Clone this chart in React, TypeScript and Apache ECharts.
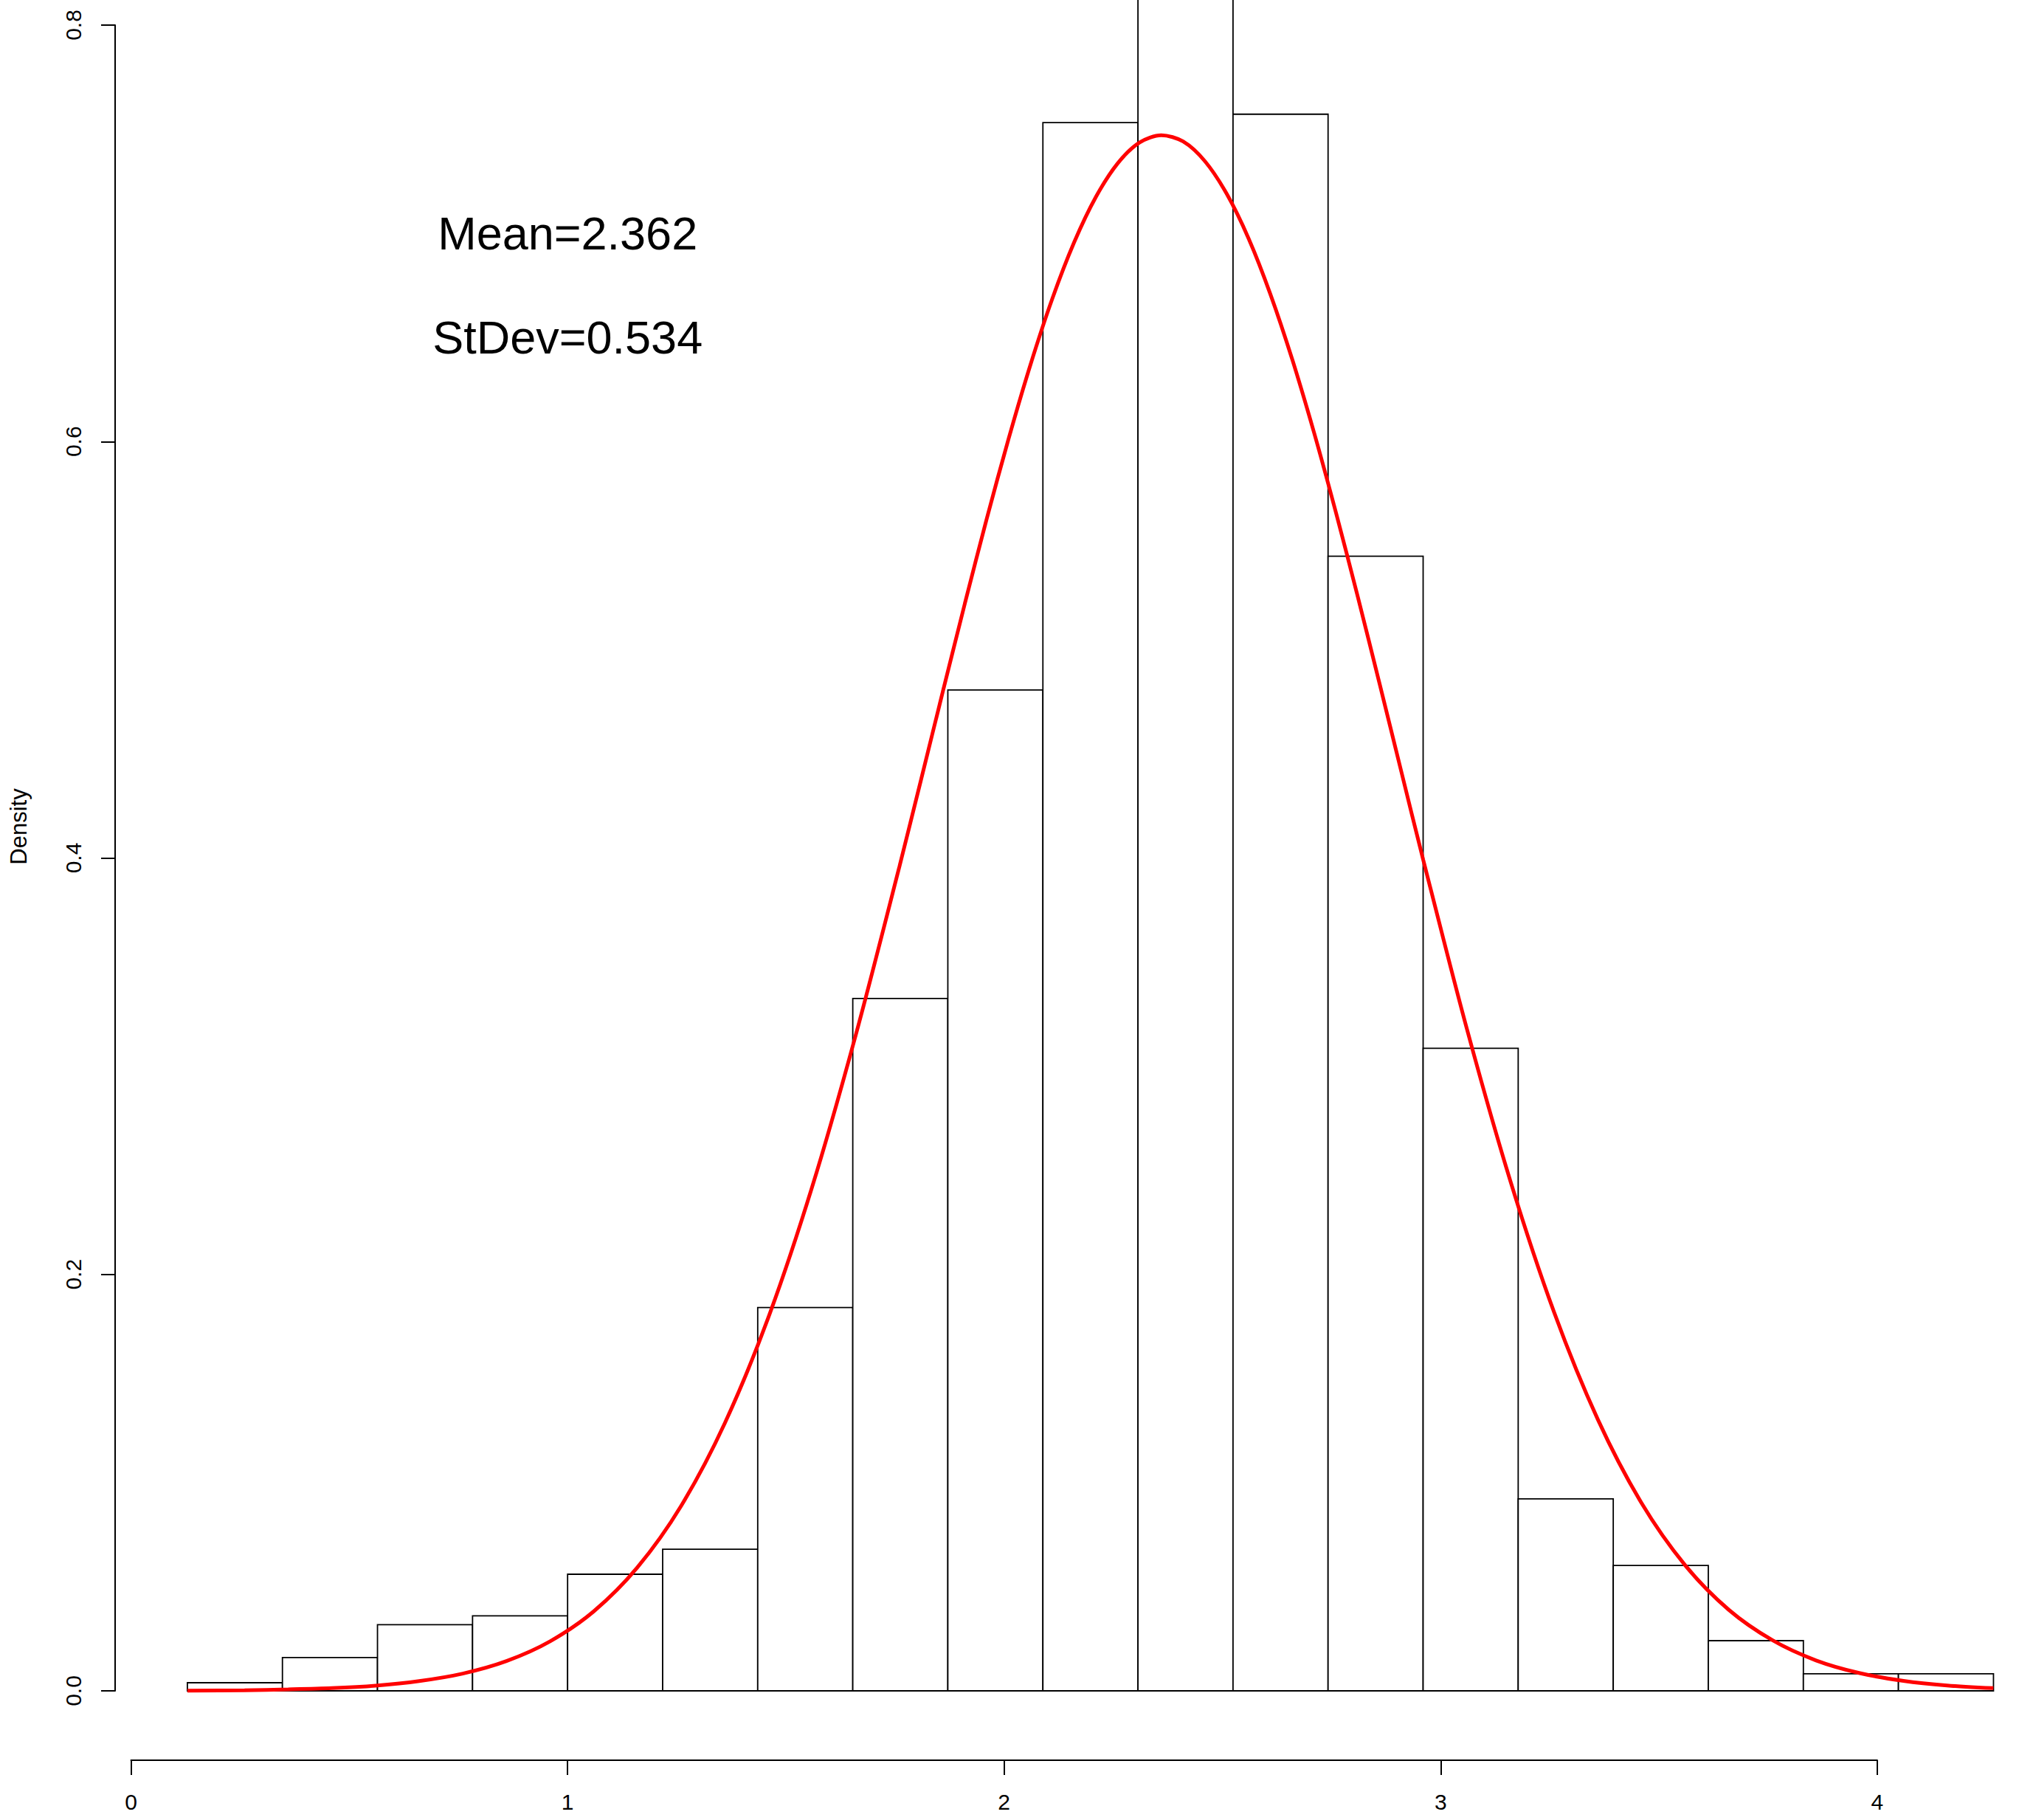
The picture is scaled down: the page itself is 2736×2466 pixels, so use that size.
import React, { useEffect, useRef } from "react";
import * as echarts from "echarts";

// Histogram bins (density scale)
const binStart = 0.129;
const binWidth = 0.21775;
const densities = [
  0.0039, 0.016, 0.0318, 0.036, 0.056, 0.068, 0.1841, 0.3325, 0.4807, 0.7532,
  0.83, 0.7572, 0.5449, 0.3086, 0.0922, 0.0602, 0.0241, 0.0082, 0.0082,
];

// Red fitted density curve
const curveX = [
  0.129, 0.26, 0.36, 0.46, 0.56, 0.66, 0.76, 0.86, 0.96, 1.06, 1.16, 1.26,
  1.36, 1.46, 1.56, 1.66, 1.76, 1.81, 1.86, 1.91, 1.96, 2.01, 2.06, 2.11, 2.16,
  2.21, 2.26, 2.31, 2.36, 2.41, 2.46, 2.51, 2.56, 2.61, 2.66, 2.71, 2.76, 2.81,
  2.86, 2.91, 2.96, 3.06, 3.16, 3.26, 3.36, 3.46, 3.56, 3.66, 3.76, 3.86, 3.96,
  4.06, 4.16, 4.266,
];
const curveY = [
  0.0001, 0.0003, 0.0007, 0.0013, 0.0025, 0.0047, 0.0083, 0.0143, 0.0238,
  0.0382, 0.0593, 0.0888, 0.1285, 0.1794, 0.2419, 0.3149, 0.3958, 0.4379,
  0.4803, 0.5222, 0.5628, 0.6012, 0.6367, 0.6684, 0.6955, 0.7174, 0.7336,
  0.7436, 0.7471, 0.7441, 0.7346, 0.7189, 0.6975, 0.6707, 0.6394, 0.6042,
  0.5659, 0.5255, 0.4837, 0.4413, 0.3991, 0.3179, 0.2446, 0.1817, 0.1303,
  0.0902, 0.0603, 0.0389, 0.0243, 0.0146, 0.0085, 0.0048, 0.0026, 0.0013,
];

const yTickLabels = ["0.0", "0.2", "0.4", "0.6", "0.8"];
const xTickLabels = ["0", "1", "2", "3", "4"];

const annotationTexts = ["Mean=2.362", "StDev=0.534"];
const annotationX = [1.0, 1.0];
const annotationY = [0.7, 0.65];

const yLabel = "Density";
const FONT = "'Liberation Sans', Arial, Helvetica, sans-serif";

export default function App() {
  const ref = useRef<HTMLDivElement>(null);

  useEffect(() => {
    if (!ref.current) return;
    const chart = echarts.init(ref.current, undefined, { renderer: "svg" });

    const binData = densities.map((d, i) => [
      binStart + i * binWidth,
      binStart + (i + 1) * binWidth,
      d,
    ]);
    const curveData = curveX.map((x, i) => [x, curveY[i]]);
    const annData = annotationX.map((x, i) => [x, annotationY[i]]);

    chart.setOption({
      animation: false,
      backgroundColor: "#ffffff",
      grid: [
        { left: 156, right: 0, top: 34, height: 2257 },
        { left: 177.5, width: 2366.4, top: 2300, height: 85 },
      ],
      xAxis: [
        {
          type: "value",
          gridIndex: 0,
          min: -0.0365,
          max: 4.3247,
          show: false,
        },
        {
          type: "value",
          gridIndex: 1,
          min: 0,
          max: 4,
          interval: 1,
          position: "bottom",
          axisLine: { show: true, onZero: false, lineStyle: { color: "#000", width: 2 } },
          axisTick: { show: true, length: 20, lineStyle: { color: "#000", width: 2 } },
          axisLabel: {
            show: true,
            margin: 41,
            fontSize: 30,
            fontFamily: FONT,
            color: "#000",
            formatter: (v: number) => xTickLabels[Math.round(v)] ?? String(v),
          },
          splitLine: { show: false },
        },
      ],
      yAxis: [
        {
          type: "value",
          gridIndex: 0,
          min: 0,
          max: 0.8,
          interval: 0.2,
          position: "left",
          axisLine: { show: true, onZero: false, lineStyle: { color: "#000", width: 2 } },
          axisTick: { show: true, length: 19, lineStyle: { color: "#000", width: 2 } },
          axisLabel: {
            show: true,
            rotate: 90,
            margin: 42,
            fontSize: 30,
            fontFamily: FONT,
            color: "#000",
            formatter: (v: number) => yTickLabels[Math.round(v / 0.2)] ?? String(v),
          },
          splitLine: { show: false },
        },
        { type: "value", gridIndex: 1, show: false, min: 0, max: 1 },
      ],
      graphic: [
        {
          type: "text",
          x: 25,
          y: 1120,
          rotation: Math.PI / 2,
          style: {
            text: yLabel,
            fontSize: 31,
            fontFamily: FONT,
            fill: "#000",
            align: "center",
            verticalAlign: "middle",
          },
        },
      ],
      series: [
        {
          type: "custom",
          xAxisIndex: 0,
          yAxisIndex: 0,
          clip: false,
          data: binData,
          encode: { x: [0, 1], y: 2 },
          renderItem: (params: any, api: any) => {
            const p0 = api.coord([api.value(0), api.value(2)]);
            const p1 = api.coord([api.value(1), 0]);
            return {
              type: "rect",
              shape: { x: p0[0], y: p0[1], width: p1[0] - p0[0], height: p1[1] - p0[1] },
              style: { fill: "#ffffff", stroke: "#000000", lineWidth: 1.8 },
            };
          },
          z: 1,
        },
        {
          type: "line",
          xAxisIndex: 0,
          yAxisIndex: 0,
          data: curveData,
          showSymbol: false,
          symbol: "none",
          smooth: 0.3,
          clip: false,
          lineStyle: { color: "#ff0000", width: 5 },
          z: 3,
        },
        {
          type: "custom",
          xAxisIndex: 0,
          yAxisIndex: 0,
          clip: false,
          data: annData,
          encode: { x: 0, y: 1 },
          renderItem: (params: any, api: any) => {
            const p = api.coord([api.value(0), api.value(1)]);
            return {
              type: "text",
              x: p[0],
              y: p[1],
              style: {
                text: annotationTexts[params.dataIndex],
                fontSize: 63,
                fontFamily: FONT,
                fill: "#000",
                align: "center",
                verticalAlign: "middle",
              },
            };
          },
          z: 4,
        },
      ],
    });

    return () => chart.dispose();
  }, []);

  return (
    <div
      ref={ref}
      style={{ position: "absolute", left: 0, top: 0, width: 2736, height: 2466, background: "#fff" }}
    />
  );
}
